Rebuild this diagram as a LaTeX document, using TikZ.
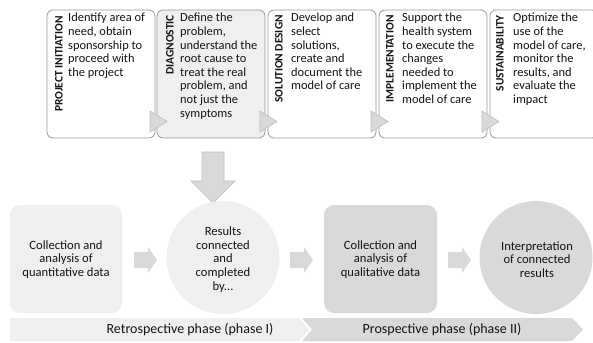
\documentclass[tikz,border=0pt]{standalone}
\usepackage{fontspec}
\setmainfont{Carlito}
\definecolor{lite}{HTML}{EFEFEF}
\definecolor{mid}{HTML}{D9D9D9}
\definecolor{edge}{HTML}{9A9A9A}
\definecolor{tri}{HTML}{BDBDBD}
\definecolor{ink}{HTML}{141414}
\begin{document}
\begin{tikzpicture}[x=1pt,y=-1pt,
  stagebox/.style={draw=edge,line width=0.8pt,rounded corners=6pt},
  stagetitle/.style={rotate=90,anchor=east,font=\fontsize{11.4}{12}\selectfont\bfseries,text=ink,inner sep=0pt},
  stagetext/.style={anchor=north west,align=left,font=\fontsize{12.4}{13.6}\selectfont,text=ink,inner sep=0pt},
  tritip/.style={fill=mid,draw=tri,line width=0.6pt},
  blockarr/.style={fill=mid,draw=none},
  roundbox/.style={rounded corners=10pt,draw=none},
  bodytext/.style={align=center,font=\fontsize{12.6}{13.6}\selectfont,text=ink,inner sep=0pt},
  bartext/.style={font=\fontsize{14}{15}\selectfont,text=ink,inner sep=0pt}]
\useasboundingbox (0,0) rectangle (593,342);
% top stage boxes
\foreach \l/\f in {47/white,157/lite,268/white,379/white,490/white}{
  \draw[stagebox,fill=\f] (\l,10) rectangle ++(108,128);
}
\foreach \r in {155,265,376,487}{
  \draw[tritip] (\r-5,111) -- (\r+12,121.5) -- (\r-5,132) -- cycle;
}
\node[stagetitle] (t1) at (59,16) {PROJECT INITIATION};
\node[stagetitle] (t2) at (170,15) {DIAGNOSTIC};
\node[stagetitle] (t3) at (279,15) {SOLUTION DESIGN};
\node[stagetitle] (t4) at (390,15) {IMPLEMENTATION};
\node[stagetitle] (t5) at (500,15) {SUSTAINABILITY};
\node[stagetext] (d1) at (68,13) {Identify area of\\need, obtain\\sponsorship to\\proceed with\\the project};
\node[stagetext] (d2) at (180,13) {Define the\\problem,\\understand the\\root cause to\\treat the real\\problem, and\\not just the\\symptoms};
\node[stagetext] (d3) at (291,13) {Develop and\\select\\solutions,\\create and\\document the\\model of care};
\node[stagetext] (d4) at (402,13) {Support the\\health system\\to execute the\\changes\\needed to\\implement the\\model of care};
\node[stagetext] (d5) at (513,13) {Optimize the\\use of the\\model of care,\\monitor the\\results, and\\evaluate the\\impact};
% down arrow
\draw[fill=mid,draw=tri,line width=0.6pt] (202,152) -- (224,152) -- (224,181) -- (235,181) -- (213,203) -- (191,181) -- (202,181) -- cycle;
% bottom row
\fill[roundbox,lite] (10,205) rectangle (122,313);
\node[bodytext] (q1) at (66,259.5) {Collection and\\analysis of\\quantitative data};
\fill[lite] (223,257.5) circle (56.5);
\node[bodytext] (c1) at (223,259.5) {Results\\connected\\and\\completed\\by...};
\fill[roundbox,mid] (324,205) rectangle (437,313);
\node[bodytext] (q2) at (380.5,259.5) {Collection and\\analysis of\\qualitative data};
\fill[mid] (536,257.5) circle (56.5);
\node[bodytext] (c2) at (537,259.5) {Interpretation\\of connected\\results};
\foreach \s in {134,290,448}{
  \fill[blockarr] (\s,252) -- (\s+14,252) -- (\s+14,247) -- (\s+23,260) -- (\s+14,273) -- (\s+14,268) -- (\s,268) -- cycle;
}
% phase bars
\fill[lite] (10,318) -- (299,318) -- (309,329.5) -- (299,341) -- (10,341) -- cycle;
\fill[mid] (302,318) -- (572,318) -- (583,329.5) -- (572,341) -- (302,341) -- (312,329.5) -- cycle;
\node[bartext] (p1) at (190,330) {Retrospective phase (phase I)};
\node[bartext] (p2) at (442,330) {Prospective phase (phase II)};
\end{tikzpicture}
\end{document}
